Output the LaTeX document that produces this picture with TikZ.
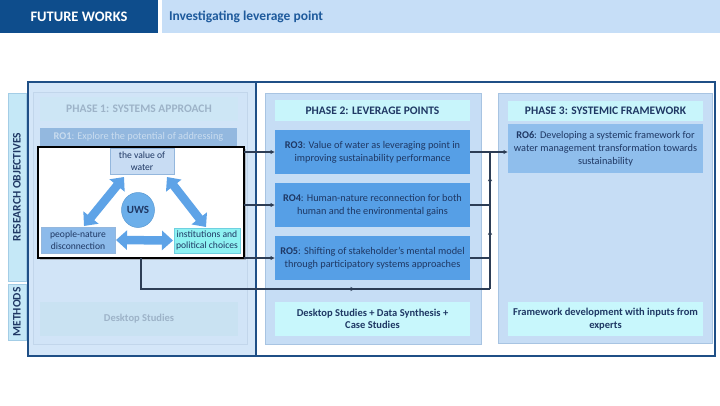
\documentclass[tikz,border=0pt]{standalone}
\usepackage{fontspec}
\setmainfont{Carlito}
\usetikzlibrary{arrows.meta,shadows,decorations.markings,calc,shapes.geometric}

\definecolor{titleDark}{HTML}{0E4D8C}
\definecolor{titleLight}{HTML}{C6DEF7}
\definecolor{titleText}{HTML}{1E5A9C}
\definecolor{bigBorder}{HTML}{1F4F86}
\definecolor{leftFill}{HTML}{D4E6F8}
\definecolor{panelFill}{HTML}{C6DDF5}
\definecolor{panelBorder}{HTML}{A8C4E2}
\definecolor{sideFill}{HTML}{C5E8F7}
\definecolor{sideBorder}{HTML}{A3CDE6}
\definecolor{navy}{HTML}{1F3864}
\definecolor{cyanHead}{HTML}{C8F5FB}
\definecolor{roBlue}{HTML}{569FE6}
\definecolor{roSix}{HTML}{8FBEEC}
\definecolor{methFill}{HTML}{C8F7FC}
\definecolor{fHead}{HTML}{CDE6F5}
\definecolor{fText}{HTML}{9DB3C8}
\definecolor{fROone}{HTML}{93B8DF}
\definecolor{fROtext}{HTML}{C9DCEF}
\definecolor{fMeth}{HTML}{C9E2F2}
\definecolor{valFill}{HTML}{C8DCF3}
\definecolor{valBorder}{HTML}{94B7DD}
\definecolor{peopleFill}{HTML}{8CBAEA}
\definecolor{instFill}{HTML}{8EF2F2}
\definecolor{instBorder}{HTML}{6FD0E0}
\definecolor{ellFill}{HTML}{6CAFEA}
\definecolor{ellBorder}{HTML}{5A9AD3}
\definecolor{arrowBlue}{HTML}{5EA3E7}
\definecolor{connC}{HTML}{2D3D55}

\newcommand\rectnode[7]{\node[#1,minimum width={(#5)-(#3)},minimum height={(#6)-(#4)}] (#2) at ({((#3)+(#5))/2},{((#4)+(#6))/2}) {#7};}

\tikzset{
  every node/.style={inner sep=0pt,outer sep=0pt,align=center,text=navy},
  bodytext/.style={font=\fontsize{10.3}{13}\selectfont},
  headtext/.style={font=\fontsize{11.5}{13}\selectfont\bfseries},
  panel/.style={draw=panelBorder,fill=panelFill,line width=0.6pt},
  headbox/.style={fill=cyanHead,headtext},
  robox/.style={fill=roBlue,bodytext},
  methbox/.style={fill=methFill,font=\fontsize{10.5}{12.5}\selectfont\bfseries},
  sidebox/.style={draw=sideBorder,fill=sideFill,line width=0.5pt},
  conn/.style={draw=connC,line width=1.1pt},
  tip/.style={-{Latex[length=4.5pt,width=4.5pt]}},
  bigarrow/.style={draw=arrowBlue,line width=8.5pt,{Triangle[width=19pt,length=11pt]}-{Triangle[width=19pt,length=11pt]}},
  smallbox/.style={font=\fontsize{9.6}{11.5}\selectfont,line width=0.5pt},
}

\begin{document}
\begin{tikzpicture}[x=1pt,y=-1pt]
\fill[white] (0,0) rectangle (720,405);
\useasboundingbox (0,0) rectangle (720,405);

% title bar
\rectnode{fill=titleDark,text=white,font=\fontsize{14.5}{16}\selectfont\bfseries}{titleA}{0}{0}{158}{33}{FUTURE WORKS}
\rectnode{fill=titleLight}{titleB}{162}{0}{720}{33}{}
\node[anchor=west,text=titleText,font=\fontsize{13.5}{15}\selectfont\bfseries] (titleBtext) at (169,16.5) {Investigating leverage point};

% big outlined areas
\rectnode{fill=leftFill,draw=bigBorder,line width=1.8pt}{leftArea}{28}{82}{256}{356}{}
\rectnode{draw=bigBorder,line width=1.8pt}{rightArea}{256}{82}{715}{356}{}

% side labels
\rectnode{sidebox}{sideRO}{8}{93}{26}{281}{}
\node[rotate=90,headtext] (sideROtext) at (sideRO.center) {RESEARCH OBJECTIVES};
\rectnode{sidebox}{sideM}{8}{284}{26}{340}{}
\node[rotate=90,headtext] (sideMtext) at (sideM.center) {METHODS};

% phase 1 (faded)
\rectnode{draw=panelBorder!70,fill=panelFill!80!white,line width=0.6pt}{pOne}{33}{92}{247}{344}{}
\rectnode{fill=fHead,headtext,text=fText}{hOne}{40}{97}{238}{121}{PHASE 1: SYSTEMS APPROACH}
\rectnode{fill=fROone,bodytext,text=fROtext}{ROone}{40}{128}{237}{147}{\raisebox{3pt}{\textbf{RO1}: Explore the potential of addressing}}
\rectnode{fill=fMeth,font=\fontsize{10.5}{12.5}\selectfont\bfseries,text=fText}{mOne}{40}{302}{238}{336}{Desktop Studies}

% phase 2
\rectnode{panel}{pTwo}{265}{93}{481}{344}{}
\rectnode{headbox}{hTwo}{275}{100}{470}{121}{PHASE 2: LEVERAGE POINTS}
\rectnode{robox}{RO3}{275}{130}{470}{174}{\textbf{RO3}: Value of water as leveraging point in\\improving sustainability performance}
\rectnode{robox}{RO4}{275}{183}{470}{227}{\textbf{RO4}: Human-nature reconnection for both\\human and the environmental gains}
\rectnode{robox}{RO5}{275}{236}{470}{280}{\textbf{RO5}: Shifting of stakeholder's mental model\\through participatory systems approaches}
\rectnode{methbox}{mTwo}{275}{302}{470}{336}{Desktop Studies + Data Synthesis +\\Case Studies}

% phase 3
\rectnode{panel}{pThree}{498}{93}{712}{343}{}
\rectnode{headbox}{hThree}{508}{101}{703}{121}{PHASE 3: SYSTEMIC FRAMEWORK}
\rectnode{fill=roSix,bodytext}{RO6}{508}{124}{703}{173}{\textbf{RO6}: Developing a systemic framework for\\water management transformation towards\\sustainability}
\rectnode{methbox}{mThree}{508}{302}{703}{336}{Framework development with inputs from\\experts}

% framed diagram (phase 1 content)
\rectnode{draw=black,fill=white,line width=1.7pt,drop shadow={shadow xshift=2pt,shadow yshift=-2pt,fill=black!45}}{frame}{38}{147}{244}{258}{}

% connectors
\coordinate (busTop) at (490,152);
\coordinate (busBot) at (490,289);
\coordinate (turn) at (frame.south |- busBot);
\draw[conn,tip] (frame.east |- RO3.west) -- (RO3.west);
\draw[conn,tip] (frame.east |- RO4.west) -- (RO4.west);
\draw[conn,tip] (frame.east |- RO5.west) -- (RO5.west);
\draw[conn,tip] (RO3.east) -- (RO6.west |- RO3.east);
\draw[conn] (RO4.east) -- (RO4.east -| busTop);
\draw[conn] (RO5.east) -- (RO5.east -| busTop);
\draw[conn,postaction={decorate},decoration={markings,mark=at position 0.645 with {\arrow{Latex[length=4.5pt,width=4.5pt]}}}] (frame.south) -- (turn) -- (busBot);
\draw[conn,postaction={decorate},decoration={markings,mark=at position 0.43 with {\arrow{Latex[length=4.5pt,width=4.5pt]}},mark=at position 0.82 with {\arrow{Latex[length=4.5pt,width=4.5pt]}}}] (busBot) -- (busTop);

% frame contents
\rectnode{smallbox,draw=valBorder,fill=valFill}{value}{110}{148}{174}{174}{the value of\\water}
\rectnode{smallbox,draw=valBorder,fill=peopleFill}{people}{41}{227}{115}{253}{people-nature\\disconnection}
\rectnode{smallbox,draw=instBorder,fill=instFill}{inst}{174}{228}{240}{253}{institutions and\\political choices}
\node[ellipse,draw=ellBorder,fill=ellFill,line width=0.5pt,minimum width=33pt,minimum height=35pt,font=\fontsize{11}{13}\selectfont\bfseries] (uws) at (138,210) {UWS};

\coordinate (aL1) at ($(people.north)+(6,-1)$);
\coordinate (aL2) at ($(value.south)+(-18,3)$);
\coordinate (aR1) at ($(value.south)+(25,3)$);
\coordinate (aR2) at ($(inst.north)+(-1,-1)$);
\coordinate (aH1) at ($(people.east)+(1,0)$);
\coordinate (aH2) at ($(inst.west)+(-1,0)$);
\draw[bigarrow] (aL1) -- (aL2);
\draw[bigarrow] (aR1) -- (aR2);
\draw[bigarrow] (aH1) -- (aH2);
\end{tikzpicture}
\end{document}
